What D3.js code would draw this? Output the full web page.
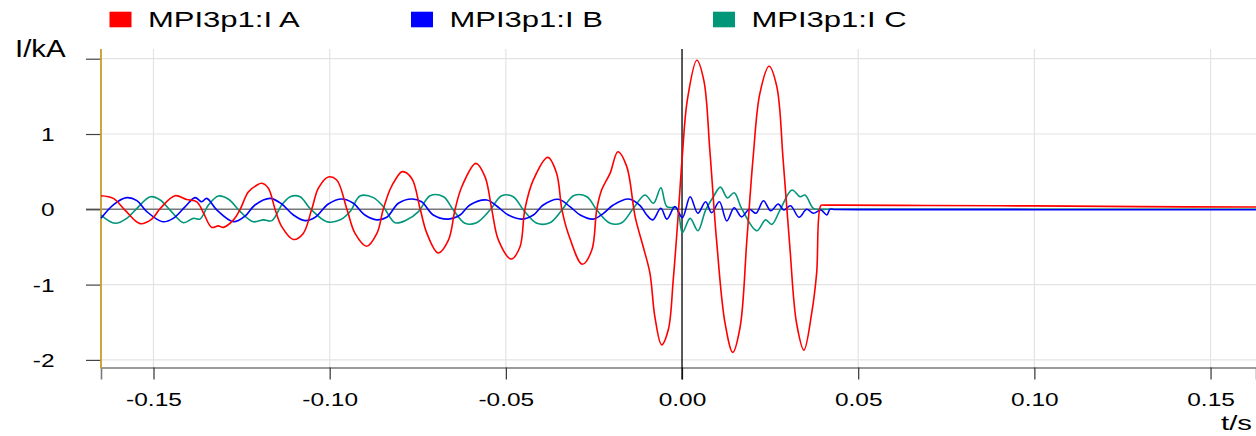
<!DOCTYPE html>
<html>
<head>
<meta charset="utf-8">
<script src="https://cdn.jsdelivr.net/npm/d3@7/dist/d3.min.js"></script>
<style>
  html, body { margin: 0; padding: 0; background: #fff; }
  svg { display: block; }
  text { font-family: "Liberation Sans", Arial, Helvetica, sans-serif; fill: #000; }
</style>
</head>
<body>
<svg id="chart" width="1256" height="436"></svg>
<script>
// Phase currents recorded by MPI3p1 (time in ms, current in kA)
const seriesNames = ["MPI3p1:I A", "MPI3p1:I B", "MPI3p1:I C"];
const seriesColors = ["#ff0000", "#0000ff", "#00967a"];

const tA = [-164.9,-161.4,-158.1,-153.8,-150.5,-148.1,-143.9,-140.6,-137.7,-135.8,-133.5,-131.6,-130.2,-127.3,-125.4,
  -123.1,-120.7,-119.3,-117.4,-115.5,-113.6,-110.3,-107.5,-105.1,-103.2,-100.4,-98.0,-95.1,-92.8,-89.5,-86.6,-84.8,
  -82.9,-81.4,-79.4,-76.7,-74.3,-72.4,-69.2,-66.3,-64.4,-62.5,-58.5,-55.9,-54.0,-52.1,-48.5,-46.0,-44.6,-42.2,-38.1,
  -35.6,-34.1,-32.3,-28.3,-25.6,-24.2,-22.8,-20.4,-18.2,-15.7,-13.3,-11.0,-9.1,-7.7,-5.8,-3.9,-2.5,-1.05,0.1,1.5,4.2,
  6.2,7.9,9.8,12.2,14.4,16.5,18.4,20.2,22.1,24.7,26.9,28.7,30.6,32.5,34.6,36.8,38.2,39.4,40.3,45,70,100,130,163];
const iA = [0.18,0.145,-0.01,-0.19,-0.13,0.01,0.18,0.13,0.10,-0.05,-0.24,-0.22,-0.24,-0.14,0.0,
  0.23,0.32,0.345,0.28,0.0,-0.23,-0.40,-0.32,0.0,0.28,0.43,0.39,0.0,-0.32,-0.49,-0.32,0.0,
  0.26,0.39,0.50,0.41,0.0,-0.32,-0.58,-0.41,0.0,0.30,0.61,0.43,0.0,-0.41,-0.66,-0.50,0.0,0.39,0.69,
  0.48,0.0,-0.32,-0.73,-0.54,0.0,0.26,0.48,0.765,0.57,-0.10,-0.50,-0.85,-1.43,-1.80,-1.60,-0.94,-0.05,0.72,1.45,1.98,
  1.71,0.78,-0.41,-1.51,-1.90,-1.56,-0.41,0.70,1.54,1.90,1.63,0.655,-0.50,-1.51,-1.87,-1.38,-0.85,0.05,0.055,0.055,0.05,0.045,0.035,0.03];

const tB = [-164.9,-161.4,-157.6,-154.7,-151.9,-147.4,-144.4,-141.0,-138.2,-136.3,-134.9,-132.0,-127.3,-124.0,-121.2,
  -116.9,-113.6,-110.3,-107.0,-104.1,-100.4,-96.6,-93.3,-90.0,-86.6,-83.8,-80.5,-76.7,-73.9,-70.6,-66.3,-63.0,-60.2,
  -55.4,-52.6,-49.3,-45.5,-42.2,-39.4,-35.1,-31.8,-28.9,-25.2,-22.3,-19.5,-15.2,-11.9,-10.0,-8.3,-6.0,-4.3,-2.0,0.1,
  2.3,4.5,6.7,8.4,10.6,12.7,14.8,16.9,19.1,21.0,23.1,25.2,27.3,28.9,30.8,33.2,35.4,37.3,39.4,41.1,42.0,43.5,60,100,163];
const iB = [-0.12,0.06,0.155,0.115,-0.03,-0.165,-0.12,0.035,0.155,0.10,0.145,-0.01,-0.165,-0.09,0.057,
  0.145,0.07,-0.076,-0.15,-0.106,0.07,0.137,0.08,-0.076,-0.14,-0.106,0.08,0.137,0.10,-0.076,-0.13,-0.076,0.057,
  0.124,0.044,-0.076,-0.13,-0.076,0.057,0.133,0.035,-0.076,-0.13,-0.053,0.057,0.137,0.05,-0.076,-0.14,0.013,-0.13,0.035,-0.11,
  0.167,-0.053,0.10,-0.045,0.10,-0.155,0.02,-0.10,0.0,-0.053,0.114,-0.02,0.07,-0.01,0.048,-0.106,0.0,-0.053,-0.01,-0.076,0.0,-0.003,-0.004,-0.005,-0.005];

const tC = [-164.9,-160.9,-157.6,-154.7,-150.9,-148.1,-145.3,-141.5,-138.7,-136.8,-134.4,-131.6,-128.7,-125.4,-121.7,
  -118.8,-116.4,-113.6,-111.2,-108.4,-105.6,-100.8,-97.0,-94.2,-91.4,-87.6,-84.8,-81.4,-78.1,-74.8,-71.5,-67.7,-64.9,
  -61.6,-58.3,-54.5,-51.2,-47.9,-45.0,-41.2,-37.5,-34.1,-30.8,-27.0,-24.2,-20.4,-17.1,-13.8,-10.5,-8.1,-6.0,-4.3,-1.5,
  0.1,2.3,4.5,6.7,8.9,10.9,12.9,14.8,16.9,21.2,23.7,25.5,27.8,31.2,33.5,34.9,37.3,39.4,41.0,45,60,163];
const iC = [-0.076,-0.186,-0.12,0.013,0.167,0.124,-0.01,-0.178,-0.12,-0.13,0.057,0.177,0.133,-0.03,-0.165,
  -0.14,-0.15,0.057,0.167,0.167,0.013,-0.165,-0.14,-0.03,0.177,0.155,0.035,-0.178,-0.14,-0.03,0.18,0.167,-0.01,
  -0.186,-0.178,-0.01,0.18,0.167,-0.01,-0.186,-0.178,-0.01,0.18,0.167,-0.01,-0.186,-0.178,0.013,0.19,0.08,0.287,0.035,0.013,
  -0.31,-0.12,-0.284,-0.01,0.167,0.295,0.15,0.22,0.013,-0.284,-0.14,-0.20,-0.01,0.256,0.167,0.19,0.013,0.0,0.0,0.0,0.0,0.0];

const xTicks = [-0.15, -0.10, -0.05, 0.00, 0.05, 0.10, 0.15];
const xTickLabels = ["-0.15", "-0.10", "-0.05", "0.00", "0.05", "0.10", "0.15"];
const yTicks = [-2, -1, 0, 1, 2];
const yTickLabels = ["-2", "-1", "0", "1", ""];

const svg = d3.select("#chart");
const plotLeft = 101, plotRight = 1256, plotTop = 49, plotBottom = 367.5;
const x = d3.scaleLinear().domain([-0.1649, 0.1629]).range([plotLeft, plotRight]);
const y = d3.scaleLinear().domain([-2.101, 2.129]).range([plotBottom, plotTop]);
const SX = 1.36; // horizontal stretch of the lettering

// grid
const grid = svg.append("g");
grid.selectAll("line.vx").data(xTicks.filter(d => d !== 0)).join("line")
  .attr("x1", d => x(d)).attr("x2", d => x(d)).attr("y1", plotTop).attr("y2", plotBottom)
  .attr("stroke", "#e3e3e3").attr("stroke-width", 1.2);
grid.selectAll("line.hy").data(yTicks.filter(d => d !== 0)).join("line")
  .attr("x1", plotLeft).attr("x2", plotRight).attr("y1", d => y(d)).attr("y2", d => y(d))
  .attr("stroke", "#e3e3e3").attr("stroke-width", 1.2);

// zero reference line
svg.append("line").attr("x1", plotLeft - 15).attr("x2", plotRight).attr("y1", y(0)).attr("y2", y(0))
  .attr("stroke", "#777").attr("stroke-width", 1.6);

// x axis
const xAxis = d3.axisBottom(x).tickValues(xTicks).tickFormat((d, i) => xTickLabels[i])
  .tickSize(12).tickPadding(14);
const gx = svg.append("g").attr("transform", `translate(0,${plotBottom})`).call(xAxis);
gx.select(".domain").attr("stroke", "#7a7a7a").attr("stroke-width", 1.6);
gx.selectAll(".tick line").attr("stroke", "#333").attr("stroke-width", 1.2);
gx.selectAll(".tick text").attr("font-size", 18).attr("fill", "#000")
  .attr("transform", `scale(${SX},1)`);

// time-zero marker
svg.append("line").attr("x1", x(0)).attr("x2", x(0)).attr("y1", plotTop).attr("y2", plotBottom + 12)
  .attr("stroke", "#000").attr("stroke-width", 1.3);

// y axis
const yAxis = d3.axisLeft(y).tickValues(yTicks).tickFormat((d, i) => yTickLabels[i])
  .tickSize(15).tickPadding(0);
const gy = svg.append("g").attr("transform", `translate(${plotLeft},0)`).call(yAxis);
gy.select(".domain").remove();
gy.selectAll(".tick line").attr("stroke", "#444").attr("stroke-width", 1.2);
gy.selectAll(".tick text").attr("font-size", 18).attr("fill", "#000")
  .attr("x", 0).attr("dy", "0.36em")
  .attr("transform", `translate(-46.5,0) scale(${SX},1)`);
svg.append("line").attr("x1", plotLeft).attr("x2", plotLeft).attr("y1", plotTop).attr("y2", plotBottom + 1)
  .attr("stroke", "#c89c2a").attr("stroke-width", 1.8);

// series: smooth curves for the oscillations
const line = d3.line().x(d => x(d[0] / 1000)).y(d => y(d[1])).curve(d3.curveCatmullRom.alpha(0.5));
const series = [
  { t: tC, v: iC, c: seriesColors[2] },
  { t: tB, v: iB, c: seriesColors[1] },
  { t: tA, v: iA, c: seriesColors[0] }
];
series.forEach(s => {
  svg.append("path").datum(s.t.map((t, i) => [t, s.v[i]]))
    .attr("fill", "none").attr("stroke", s.c).attr("stroke-width", 1.6)
    .attr("stroke-linejoin", "round").attr("d", line);
});

// axis titles
svg.append("text").attr("font-size", 23).attr("transform", `translate(15,57) scale(1.28,1)`).text("I/kA");
svg.append("text").attr("font-size", 21).attr("text-anchor", "end")
  .attr("transform", `translate(1252,430) scale(1.4,1)`).text("t/s");

// legend
const legend = svg.append("g");
const lx = [109.5, 411, 713];
seriesNames.forEach((n, i) => {
  legend.append("rect").attr("x", lx[i]).attr("y", 11.7).attr("width", 22).attr("height", 15.6).attr("fill", seriesColors[i]);
  legend.append("text").attr("font-size", 22)
    .attr("transform", `translate(${lx[i] + 38.5},27.3) scale(1.41,1)`).text(n);
});
</script>
</body>
</html>
